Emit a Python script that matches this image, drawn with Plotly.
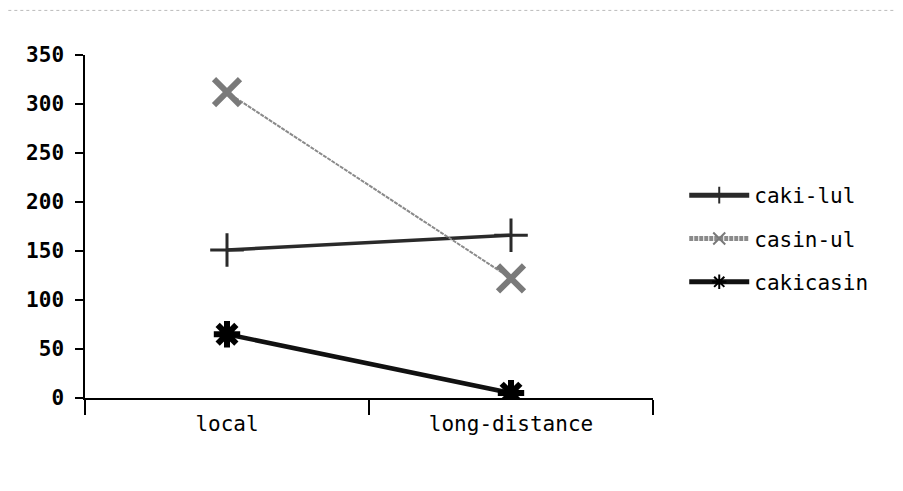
import plotly.graph_objects as go

categories = ["local", "long-distance"]
series_names = ["caki-lul", "casin-ul", "cakicasin"]
caki_lul = [151, 166]
casin_ul = [312, 122]
cakicasin = [65, 5]
y_ticks = [0, 50, 100, 150, 200, 250, 300, 350]

FONT = "DejaVu Sans Mono"
fig = go.Figure()

styles = [
    dict(line=dict(color="#2a2a2a", width=3.5),
         marker=dict(symbol="cross-thin-open", size=24, line=dict(color="#2a2a2a", width=3), color="#2a2a2a")),
    dict(line=dict(color="#8a8a8a", width=2, dash="4px,1px"),
         marker=dict(symbol="x-thin-open", size=26, line=dict(color="#7a7a7a", width=6), color="#7a7a7a")),
    dict(line=dict(color="#111111", width=4.5),
         marker=dict(symbol="asterisk-open", size=22, line=dict(color="#000000", width=6), color="#000000")),
]

for name, vals, st in zip(series_names, [caki_lul, casin_ul, cakicasin], styles):
    fig.add_trace(go.Scatter(x=categories, y=vals, name=name, mode="lines+markers",
                             legendgroup=name, line=st["line"], marker=st["marker"]))

fig.update_layout(
    width=903, height=491,
    paper_bgcolor="white", plot_bgcolor="white",
    margin=dict(l=77, r=258, t=47, b=101),
    font=dict(family=FONT, size=21, color="black"),
    legend=dict(x=1.055, y=0.65, xanchor="left", yanchor="top",
                font=dict(family=FONT, size=21), tracegroupgap=13,
                itemwidth=60, itemsizing="constant", bgcolor="rgba(0,0,0,0)"),
    showlegend=True,
    shapes=[dict(type="line", xref="paper", yref="paper", x0=-0.135, x1=1.44,
                 y0=1.13, y1=1.13, line=dict(color="#bbbbbb", width=1, dash="dot"))],
)
fig.update_xaxes(type="category", tickson="boundaries", ticks="outside", ticklen=15,
                 tickwidth=1.5, tickcolor="black", showline=True, linecolor="black",
                 linewidth=1.5, showgrid=False, zeroline=False, automargin=False,
                 ticklabelstandoff=6,
                 tickfont=dict(family=FONT, size=21), range=[-0.5, 1.5])
fig.update_yaxes(range=[0, 350], tickvals=y_ticks, ticks="outside", ticklen=8,
                 tickwidth=1.5, tickcolor="black", showline=True, linecolor="black",
                 linewidth=1.5, showgrid=False, zeroline=False, automargin=False,
                 ticklabelstandoff=7,
                 tickfont=dict(family=FONT, size=21, weight="bold"))

fig.write_html("out.html")
